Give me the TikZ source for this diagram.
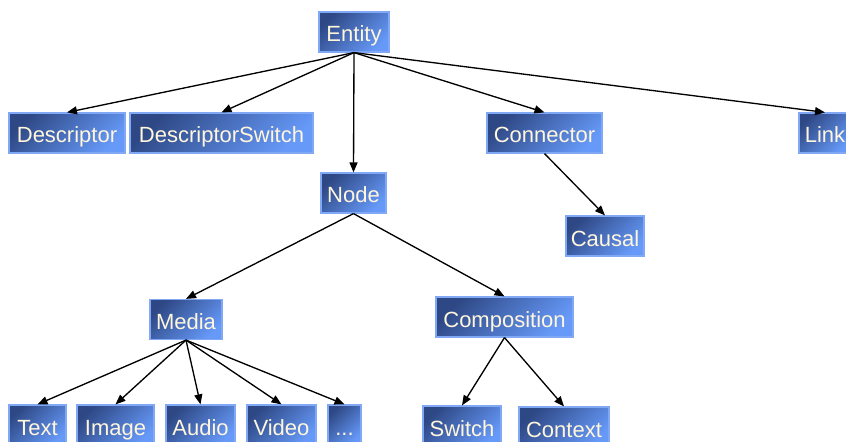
\documentclass[tikz,border=0pt]{standalone}
\usepackage{fontspec}
\setmainfont{Liberation Sans}
\usetikzlibrary{arrows.meta}
\definecolor{boxdark}{HTML}{2E4885}
\definecolor{boxlight}{HTML}{6699F8}
\definecolor{boxedge}{HTML}{80A8F4}
\definecolor{boxtext}{HTML}{FFF6DC}
\tikzset{
  box/.style={draw=boxedge, line width=0.9pt, top color=boxdark, bottom color=boxlight,
    shading angle=45, text=boxtext, inner sep=0pt, minimum height=30pt,
    text height=15pt, text depth=0pt,
    font=\fontsize{16.5pt}{18pt}\selectfont},
  link/.style={line width=1pt, -{Triangle[length=7.5pt,width=6pt]}}
}
\begin{document}
\begin{tikzpicture}[x=0.75pt,y=-0.75pt]
\useasboundingbox (0,0) rectangle (846,442);
\node[box, minimum width=52.5pt] (entity) at (354,32) {Entity};
\node[box, minimum width=87pt] (descriptor) at (67,133) {Descriptor};
\node[box, minimum width=137.25pt] (dswitch) at (221.5,133) {DescriptorSwitch};
\node[box, minimum width=86.25pt] (connector) at (544.5,133) {Connector};
\node[box, minimum width=39pt] (linknode) at (825,133) {Link};
\node[box, minimum width=48.75pt] (node) at (353.5,193) {Node};
\node[box, minimum width=58.5pt] (causal) at (605,236) {Causal};
\node[box, minimum width=54pt] (media) at (186,319.5) {Media};
\node[box, minimum width=102.75pt] (composition) at (504.5,317) {Composition};
\node[box, minimum width=42.75pt] (text) at (37.5,425) {Text};
\node[box, minimum width=57.75pt] (image) at (115.5,425) {Image};
\node[box, minimum width=51.75pt] (audio) at (200.5,425) {Audio};
\node[box, minimum width=51.75pt] (video) at (281.5,425) {Video};
\node[box, minimum width=24.75pt] (more) at (344.5,425) {...};
\node[box, minimum width=58.5pt] (switch) at (462,426) {Switch};
\node[box, minimum width=67.5pt] (context) at (564,427) {Context};

\foreach \c in {descriptor,dswitch,node,connector,linknode}
  \draw[link] (entity.south) -- (\c.north);
\draw[link] (connector.south) -- (causal.north);
\draw[link] (node.south) -- (media.north);
\draw[link] (node.south) -- (composition.north);
\foreach \c in {text,image,audio,video,more}
  \draw[link] (media.south) -- (\c.north);
\draw[link] (composition.south) -- (switch.north);
\draw[link] (composition.south) -- (context.north);
\end{tikzpicture}
\end{document}
